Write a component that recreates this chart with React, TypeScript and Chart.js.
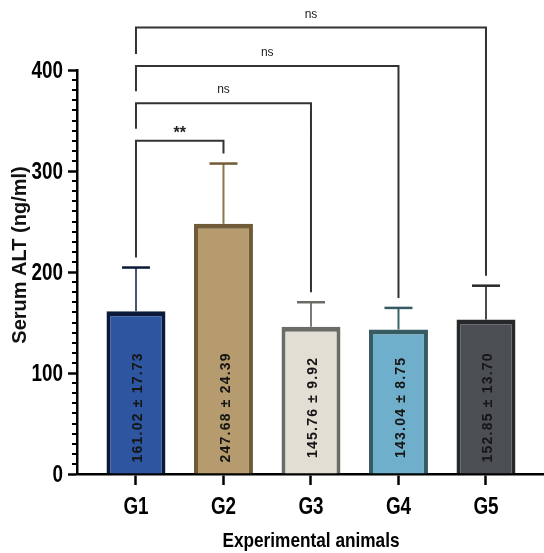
import React, { useEffect, useRef } from "react";
import { Chart, registerables } from "chart.js";

Chart.register(...registerables);

const categories = ["G1", "G2", "G3", "G4", "G5"];
const means = [161.02, 247.68, 145.76, 143.04, 152.85];
const sems = [17.73, 24.39, 9.92, 8.75, 13.7];
const errorBars = [43.4, 59.7, 24.3, 21.4, 33.6];
const fillColors = ["#2D55A0", "#B59B6E", "#E2DED4", "#70AFCB", "#4B4E53"];
const borderColors = ["#0B1A3A", "#705A37", "#6B6B67", "#365B63", "#27282A"];
const stemColors = ["#46566F", "#8B7550", "#7A7A76", "#3F636B", "#4A4A4A"];
const yTickValues = [0, 100, 200, 300, 400];
const bracketFrom = [0, 0, 0, 0];
const bracketTo = [4, 3, 2, 1];
const bracketLevel = [442, 404, 367, 330];
const bracketLabels = ["ns", "ns", "ns", "**"];
const yTitle = "Serum ALT (ng/ml)";
const xTitle = "Experimental animals";

const SANS = '"Liberation Sans", Arial, Helvetica, sans-serif';
const NARROW_SCALE = 0.82;

function drawNarrow(ctx: CanvasRenderingContext2D, text: string, x: number, y: number, size: number, align: CanvasTextAlign) {
  ctx.save();
  ctx.translate(x, y);
  ctx.scale(NARROW_SCALE, 1);
  ctx.font = `bold ${size}px ${SANS}`;
  ctx.fillStyle = "#000";
  ctx.textAlign = align;
  ctx.textBaseline = "alphabetic";
  ctx.fillText(text, 0, 0);
  ctx.restore();
}

const overlay = {
  id: "overlay",
  afterDatasetsDraw(chart: any) {
    const ctx = chart.ctx;
    const xs = chart.scales.x;
    const ys = chart.scales.y;
    ctx.save();
    // error bars
    means.forEach((m, i) => {
      const x = xs.getPixelForValue(i);
      const y0 = ys.getPixelForValue(m);
      const y1 = ys.getPixelForValue(m + errorBars[i]);
      ctx.strokeStyle = stemColors[i];
      ctx.lineWidth = 2;
      ctx.beginPath();
      ctx.moveTo(x, y0);
      ctx.lineTo(x, y1);
      ctx.stroke();
      ctx.strokeStyle = borderColors[i];
      ctx.lineWidth = 2.5;
      ctx.beginPath();
      ctx.moveTo(x - 14, y1);
      ctx.lineTo(x + 14, y1);
      ctx.stroke();
    });
    // value labels
    means.forEach((m, i) => {
      const x = xs.getPixelForValue(i);
      const yc = ys.getPixelForValue(66);
      ctx.save();
      ctx.translate(x + 6.5, yc);
      ctx.rotate(-Math.PI / 2);
      ctx.font = `bold 14px ${SANS}`;
      (ctx as any).letterSpacing = "1.2px";
      ctx.fillStyle = "#151515";
      ctx.textAlign = "center";
      ctx.textBaseline = "alphabetic";
      ctx.fillText(`${m.toFixed(2)} ± ${sems[i].toFixed(2)}`, 0, 0);
      ctx.restore();
    });
    ctx.restore();
  },
  afterDraw(chart: any) {
    const ctx = chart.ctx;
    const xs = chart.scales.x;
    const ys = chart.scales.y;
    const area = chart.chartArea;
    ctx.save();
    // minor ticks
    ctx.strokeStyle = "#000";
    ctx.lineWidth = 2;
    for (let v = 10; v < 400; v += 10) {
      if (v % 100 === 0) continue;
      const y = Math.round(ys.getPixelForValue(v));
      ctx.beginPath();
      ctx.moveTo(area.left - 5, y);
      ctx.lineTo(area.left, y);
      ctx.stroke();
    }
    // y tick labels
    yTickValues.forEach((v) => {
      drawNarrow(ctx, String(v), area.left - 14, ys.getPixelForValue(v) + 8.2, 23, "right");
    });
    // x tick labels
    categories.forEach((c, i) => {
      drawNarrow(ctx, c, xs.getPixelForValue(i), area.bottom + 39.5, 23, "center");
    });
    // brackets
    bracketLevel.forEach((lv, k) => {
      const xa = xs.getPixelForValue(bracketFrom[k]);
      const xb = xs.getPixelForValue(bracketTo[k]);
      const yl = ys.getPixelForValue(lv);
      const rightEnd = ys.getPixelForValue(means[bracketTo[k]] + errorBars[bracketTo[k]]) - 10;
      const leftEnd =
        k < bracketLevel.length - 1
          ? ys.getPixelForValue(bracketLevel[k + 1]) - 12
          : ys.getPixelForValue(means[bracketFrom[k]] + errorBars[bracketFrom[k]]) - 10;
      ctx.strokeStyle = "#333";
      ctx.lineWidth = 2;
      ctx.beginPath();
      ctx.moveTo(xa, leftEnd);
      ctx.lineTo(xa, yl);
      ctx.lineTo(xb, yl);
      ctx.lineTo(xb, rightEnd);
      ctx.stroke();
      const lab = bracketLabels[k];
      ctx.fillStyle = "#222";
      ctx.textAlign = "center";
      ctx.textBaseline = "alphabetic";
      if (lab === "**") {
        ctx.font = `bold 16px ${SANS}`;
        ctx.fillText(lab, (xa + xb) / 2, yl - 3);
      } else {
        ctx.font = `12px ${SANS}`;
        ctx.fillText(lab, (xa + xb) / 2, yl - 10);
      }
    });
    // y title
    ctx.save();
    ctx.translate(26, 255);
    ctx.rotate(-Math.PI / 2);
    ctx.font = `bold 20px ${SANS}`;
    ctx.fillStyle = "#111";
    ctx.textAlign = "center";
    ctx.textBaseline = "alphabetic";
    ctx.fillText(yTitle, 0, 0);
    ctx.restore();
    // x title
    drawNarrow(ctx, xTitle, (xs.getPixelForValue(0) + xs.getPixelForValue(4)) / 2, 547, 21, "center");
    ctx.restore();
  },
};

export default function App() {
  const ref = useRef<HTMLCanvasElement>(null);
  useEffect(() => {
    if (!ref.current) return;
    const chart = new Chart(ref.current, {
      type: "bar",
      data: {
        datasets: [
          {
            data: means.map((v, i) => ({ x: i, y: v })) as any,
            backgroundColor: fillColors,
            borderColor: borderColors,
            borderWidth: { top: 5, left: 4, right: 4, bottom: 0 } as any,
            borderSkipped: "start",
            barPercentage: 0.674,
            categoryPercentage: 1,
          },
        ],
      },
      options: {
        animation: false,
        responsive: false,
        maintainAspectRatio: false,
        layout: { padding: { top: 70, right: 0, bottom: 0, left: 0 } },
        plugins: { legend: { display: false }, tooltip: { enabled: false } },
        scales: {
          x: {
            type: "linear",
            offset: false,
            min: -0.674,
            max: 4.663,
            afterBuildTicks: (s: any) => {
              s.ticks = categories.map((_, i) => ({ value: i }));
            },
            afterFit: (s: any) => {
              s.height = 79;
            },
            ticks: { display: false },
            grid: {
              offset: false,
              drawOnChartArea: false,
              drawTicks: true,
              tickLength: 11,
              tickWidth: 2.5,
              tickColor: "#000",
            },
            border: { display: true, color: "#000", width: 2.5 },
          },
          y: {
            type: "linear",
            min: 0,
            max: 400,
            afterBuildTicks: (s: any) => {
              s.ticks = yTickValues.map((v) => ({ value: v }));
            },
            afterFit: (s: any) => {
              s.width = 77;
            },
            ticks: { display: false },
            grid: {
              drawOnChartArea: false,
              drawTicks: true,
              tickLength: 9,
              tickWidth: 2.5,
              tickColor: "#000",
            },
            border: { display: true, color: "#000", width: 2.5 },
          },
        },
      },
      plugins: [overlay],
    });
    return () => chart.destroy();
  }, []);
  return (
    <div style={{ position: "fixed", left: 0, top: 0, width: 544, height: 553, background: "#fff" }}>
      <canvas ref={ref} width={544} height={553} style={{ display: "block" }} />
    </div>
  );
}
